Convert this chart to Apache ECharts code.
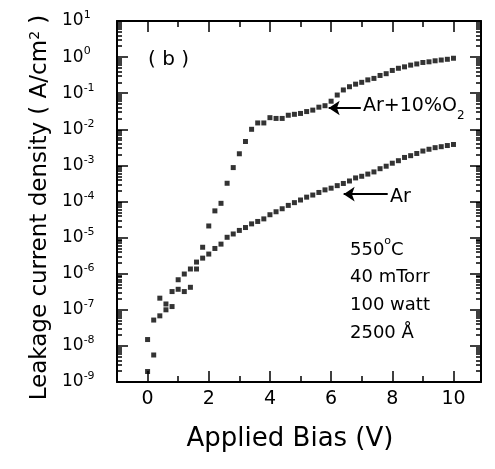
<!DOCTYPE html>
<html>
<head>
<meta charset="utf-8">
<script src="https://cdn.jsdelivr.net/npm/echarts@6/dist/echarts.min.js"></script>
<style>
html,body{margin:0;padding:0;background:#fff;}
#chart{width:495px;height:469px;}
</style>
</head>
<body>
<div id="chart"></div>
<script>
// ---- data ----
var biasV = [0,0.2,0.4,0.6,0.8,1.0,1.2,1.4,1.6,1.8,2.0,2.2,2.4,2.6,2.8,3.0,3.2,3.4,3.6,3.8,4.0,4.2,4.4,4.6,4.8,5.0,5.2,5.4,5.6,5.8,6.0,6.2,6.4,6.6,6.8,7.0,7.2,7.4,7.6,7.8,8.0,8.2,8.4,8.6,8.8,9.0,9.2,9.4,9.6,9.8,10.0];
var arJ = [1.5e-8,5.2e-8,6.8e-8,1.0e-7,1.23e-7,3.7e-7,3.2e-7,4.2e-7,1.35e-6,2.7e-6,3.5e-6,5.0e-6,6.6e-6,1.02e-5,1.26e-5,1.58e-5,1.9e-5,2.4e-5,2.8e-5,3.3e-5,4.3e-5,5.2e-5,6.3e-5,7.8e-5,9.3e-5,1.1e-4,1.32e-4,1.51e-4,1.78e-4,2.1e-4,2.34e-4,2.75e-4,3.16e-4,3.7e-4,4.5e-4,5.0e-4,5.75e-4,6.6e-4,8.1e-4,9.5e-4,1.15e-3,1.35e-3,1.66e-3,1.86e-3,2.14e-3,2.5e-3,2.8e-3,3.1e-3,3.3e-3,3.55e-3,3.8e-3];
var arO2J = [1.95e-9,5.6e-9,2.1e-7,1.45e-7,3.2e-7,6.8e-7,9.8e-7,1.35e-6,2.1e-6,5.4e-6,2.1e-5,5.5e-5,8.9e-5,3.2e-4,8.7e-4,2.1e-3,4.6e-3,1.0e-2,1.5e-2,1.5e-2,2.1e-2,2.0e-2,2.0e-2,2.45e-2,2.6e-2,2.75e-2,3.1e-2,3.4e-2,4.1e-2,4.5e-2,6.0e-2,8.9e-2,0.123,0.151,0.178,0.20,0.234,0.257,0.31,0.347,0.427,0.49,0.537,0.60,0.646,0.71,0.74,0.79,0.83,0.87,0.93];
var xTickLabels = [0,2,4,6,8,10];
var xMinorTicks = [1,3,5,7,9];
var yTickValues = [1e-9,1e-8,1e-7,1e-6,1e-5,1e-4,1e-3,1e-2,1e-1,1,10];
var arrowArO2 = [[5.92,0.039],[6.97,0.039]];
var arrowAr = [[6.41,1.6e-4],[7.85,1.6e-4]];

var yMinorTicks = [];
for (var e = -9; e <= 0; e++) { for (var m = 2; m <= 9; m++) { yMinorTicks.push(m * Math.pow(10, e)); } }

var FONT = 'DejaVu Sans';
var X_MIN = -1, X_MAX = 10.9, Y_MIN = 1e-9, Y_MAX = 10;

function xAx(pos, ticks, len, showLine, showLabel, name) {
  var a = {
    type:'value', position:pos, min:X_MIN, max:X_MAX,
    axisLine:{show:showLine, onZero:false, lineStyle:{color:'#000', width:2}},
    axisTick:{inside:true, length:len, customValues:ticks, lineStyle:{color:'#000', width:1.5}},
    splitLine:{show:false}
  };
  if (showLabel) {
    a.axisLabel = {customValues:ticks, margin:8, color:'#000', fontFamily:FONT, fontSize:19};
  } else {
    a.axisLabel = {show:false};
  }
  if (name) {
    a.name = name; a.nameLocation = 'middle'; a.nameGap = 44;
    a.nameTextStyle = {fontFamily:FONT, fontSize:26, color:'#000', padding:[0,18,0,0]};
  }
  return a;
}
function yAx(pos, ticks, len, showLine, showLabel, name) {
  var a = {
    type:'log', position:pos, min:Y_MIN, max:Y_MAX,
    axisLine:{show:showLine, onZero:false, lineStyle:{color:'#000', width:2}},
    axisTick:{inside:true, length:len, customValues:ticks, lineStyle:{color:'#000', width:1.5}},
    splitLine:{show:false}
  };
  if (showLabel) {
    a.axisLabel = {customValues:ticks, margin:55, align:'left',
      formatter:function(v){ var ex = Math.round(Math.log(v)/Math.LN10); return '{b|10}{s|' + ex + '}'; },
      rich:{ b:{fontFamily:FONT, fontSize:17, color:'#000', lineHeight:22}, s:{fontFamily:FONT, fontSize:11, color:'#000', verticalAlign:'top', lineHeight:22} }
    };
  } else {
    a.axisLabel = {show:false};
  }
  if (name) {
    a.name = name; a.nameLocation = 'middle'; a.nameGap = 65;
    a.nameTextStyle = {fontFamily:FONT, fontSize:23, color:'#000', padding:[0,12,0,0], rich:{sup:{fontFamily:FONT, fontSize:14, color:'#000', verticalAlign:'top'}}};
  }
  return a;
}

var chart = echarts.init(document.getElementById('chart'), null, {renderer:'canvas'});
var markerStyle = {color:'#000'};
function arrowLine(pts) {
  return {
    silent:true, symbol:['arrow','none'], symbolSize:11,
    lineStyle:{color:'#000', width:2, type:'solid'}, label:{show:false},
    data:[[{coord:pts[0]},{coord:pts[1]}]]
  };
}
var option = {
  animation:false,
  backgroundColor:'#fff',
  grid:{left:117, top:21, right:14, bottom:87},
  xAxis:[
    xAx('bottom', xTickLabels, 11, true, true, 'Applied Bias (V)'),
    xAx('bottom', xMinorTicks, 6, false, false),
    xAx('top', xTickLabels, 11, true, false),
    xAx('top', xMinorTicks, 6, false, false)
  ],
  yAxis:[
    yAx('left', yTickValues, 11, true, true, 'Leakage current density ( A/cm{sup|2} )'),
    yAx('left', yMinorTicks, 5, false, false),
    yAx('right', yTickValues, 11, true, false),
    yAx('right', yMinorTicks, 5, false, false)
  ],
  series:[
    {
      name:'Ar', type:'scatter', xAxisIndex:0, yAxisIndex:0,
      symbol:'rect', symbolSize:5, itemStyle:markerStyle,
      data: biasV.map(function(x,i){ return [x, arJ[i]]; }),
      markLine: arrowLine(arrowAr)
    },
    {
      name:'Ar+10%O2', type:'scatter', xAxisIndex:0, yAxisIndex:0,
      symbol:'rect', symbolSize:5, itemStyle:markerStyle,
      data: biasV.map(function(x,i){ return [x, arO2J[i]]; }),
      markLine: arrowLine(arrowArO2)
    }
  ],
  graphic:[
    {type:'text', left:148, top:50, style:{text:'( b )', font:'20px "DejaVu Sans"', fill:'#000'}},
    {type:'text', left:363, top:97, style:{text:'Ar+10%O{sub|2}', font:'19px "DejaVu Sans"', fill:'#000',
      rich:{sub:{fontFamily:FONT, fontSize:12, fill:'#000', verticalAlign:'bottom', padding:[0,0,-6,0]}}}},
    {type:'text', left:390, top:188, style:{text:'Ar', font:'19px "DejaVu Sans"', fill:'#000'}},
    {type:'text', left:350, top:236, style:{text:'550{s|o}C\n40 mTorr\n100 watt\n2500 Å', font:'18px "DejaVu Sans"', fill:'#000', lineHeight:27.7,
      rich:{s:{fontFamily:FONT, fontSize:11, fill:'#000', verticalAlign:'top', lineHeight:27.7}}}}
  ]
};
chart.setOption(option);
</script>
</body>
</html>
